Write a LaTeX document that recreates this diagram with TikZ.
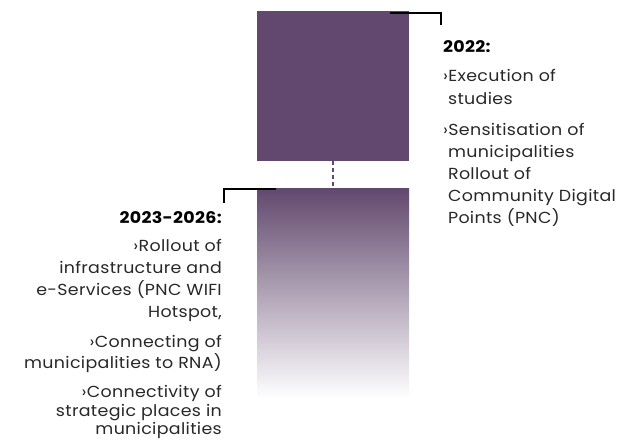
\documentclass[tikz,border=0pt]{standalone}
\usepackage{fontspec}
\setmainfont{Poppins}[FakeStretch=1.09,LetterSpace=2]
\definecolor{plum}{RGB}{98,72,110}
\definecolor{bodytext}{RGB}{40,40,40}
\begin{document}
\begin{tikzpicture}[x=1pt,y=-1pt,
  bracket/.style={line width=2pt,black},
  dashline/.style={line width=2.2pt,plum,dash pattern=on 4pt off 3pt},
  txt/.style={inner sep=0pt,font=\fontsize{16}{19}\selectfont,text=bodytext},
  ttl/.style={inner sep=0pt,font=\fontsize{16}{19}\selectfont\bfseries,text=black},
  rtxt/.style={txt,anchor=base west},
  ltxt/.style={txt,anchor=base east}]
\useasboundingbox (0,0) rectangle (623,440);
\node[anchor=north west,inner sep=0pt,minimum width=152pt,minimum height=150pt,fill=plum] (top) at (257,11) {};
\node[anchor=north west,inner sep=0pt,minimum width=152pt,minimum height=210pt,top color=plum,bottom color=white] (bot) at (257,188) {};
\draw[dashline] (top.south) -- (bot.north);
\coordinate (ta) at (390,13);
\coordinate (tb) at (441,13);
\coordinate (tc) at (441,25);
\draw[bracket] (ta) -- (tb) -- (tc);
\coordinate (ba) at (276,189);
\coordinate (bb) at (224,189);
\coordinate (bc) at (224,203);
\draw[bracket] (ba) -- (bb) -- (bc);
% right column
\node[ttl,anchor=base west] (r0) at (443,52) {2022:};
\node[rtxt] (r1) at (443,81) {›Execution of};
\node[rtxt] (r2) at (443,104) {\phantom{›}studies};
\node[rtxt] (r3) at (443,135) {›Sensitisation of};
\node[rtxt] (r4) at (443,157) {\phantom{›}municipalities};
\node[rtxt] (r5) at (443,179) {\phantom{›}Rollout of};
\node[rtxt] (r6) at (443,201) {\phantom{›}Community Digital};
\node[rtxt] (r7) at (443,223) {\phantom{›}Points (PNC)};
% left column
\node[ttl,anchor=base east] (l0) at (222,223) {2023-2026:};
\node[ltxt] (l1) at (222,251) {›Rollout of};
\node[ltxt] (l2) at (222,273) {infrastructure and};
\node[ltxt] (l3) at (222,295) {e-Services (PNC WIFI};
\node[ltxt] (l4) at (222,317) {Hotspot,};
\node[ltxt] (l5) at (222,347) {›Connecting of};
\node[ltxt] (l6) at (222,368) {municipalities to RNA)};
\node[ltxt] (l7) at (222,397) {›Connectivity of};
\node[ltxt] (l8) at (222,416) {strategic places in};
\node[ltxt] (l9) at (222,434) {municipalities};
\end{tikzpicture}
\end{document}
